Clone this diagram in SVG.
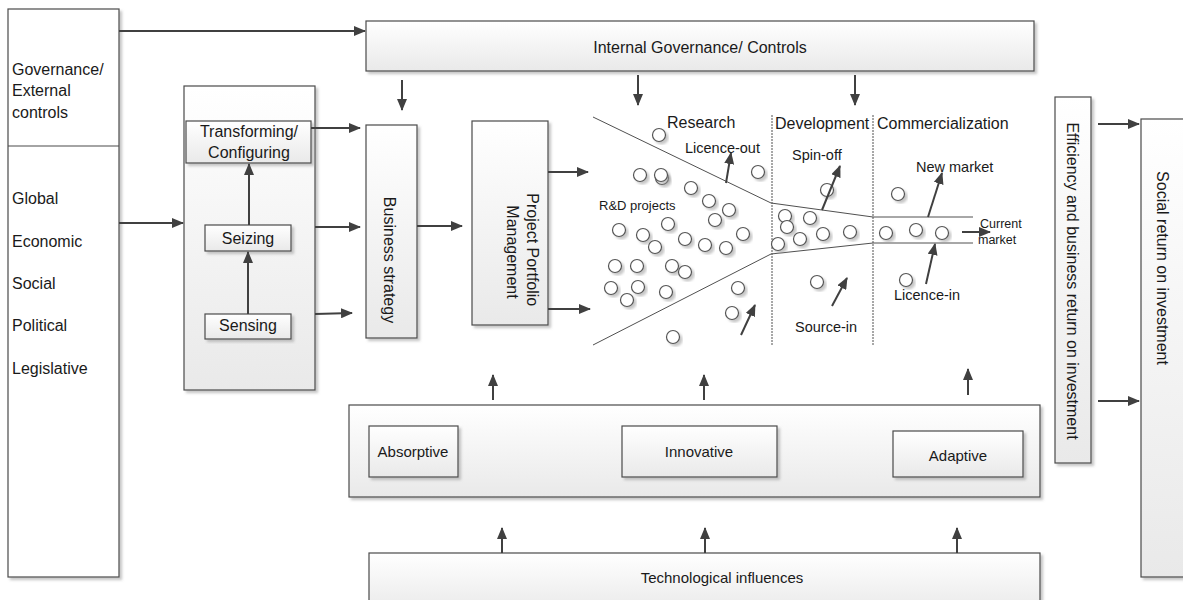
<svg xmlns="http://www.w3.org/2000/svg" width="1183" height="600" viewBox="0 0 1183 600">
  <defs>
    <linearGradient id="boxFill" x1="0" y1="0" x2="0" y2="1">
      <stop offset="0" stop-color="#ffffff"/>
      <stop offset="1" stop-color="#e9e9e9"/>
    </linearGradient>
    <filter id="shadow" x="-10%" y="-10%" width="130%" height="130%">
      <feDropShadow dx="2.5" dy="2.5" stdDeviation="1" flood-color="#9a9a9a" flood-opacity="0.55"/>
    </filter>
    <marker id="arrow" markerUnits="userSpaceOnUse" markerWidth="12" markerHeight="10" viewBox="0 0 12 10" refX="11" refY="5" orient="auto">
      <path d="M0,0 L12,5 L0,10 Z" fill="#404040"/>
    </marker>
  </defs>
  <style>
    .box { fill: url(#boxFill); stroke: #4a4a4a; stroke-width: 1.2; filter: url(#shadow); }
    .plain { fill: #ffffff; stroke: #4a4a4a; stroke-width: 1.2; }
    .lbl { font-family: "Liberation Sans", Arial, sans-serif; font-size: 16px; fill: #1a1a1a; }
    .mid { text-anchor: middle; }
    .small { font-size: 14.5px; }
    .tiny { font-size: 12.5px; }
    .conn { stroke: #404040; stroke-width: 2; fill: none; marker-end: url(#arrow); }
    .funnel { stroke: #505050; stroke-width: 1; fill: none; }
    .divider { stroke: #505050; stroke-width: 1; stroke-dasharray: 2 1; fill: none; }
    .proj { fill: #ffffff; stroke: #555555; stroke-width: 1.2; filter: url(#shadow); }
  </style>

  <rect width="1183" height="600" fill="#ffffff"/>

  <!-- external environment column -->
  <g id="external">
    <rect class="box" x="8" y="9" width="111" height="568" style="fill:#ffffff"/>
    <line x1="8" y1="146" x2="119" y2="146" stroke="#4a4a4a" stroke-width="1.2"/>
    <text class="lbl" x="12" y="75">Governance/</text>
    <text class="lbl" x="12" y="96">External</text>
    <text class="lbl" x="12" y="118">controls</text>
    <text class="lbl" x="12" y="204">Global</text>
    <text class="lbl" x="12" y="247">Economic</text>
    <text class="lbl" x="12" y="289">Social</text>
    <text class="lbl" x="12" y="331">Political</text>
    <text class="lbl" x="12" y="374">Legislative</text>
  </g>

  <!-- dynamic capabilities -->
  <g id="dynamic-capabilities">
    <rect class="box" x="184" y="86" width="131" height="304"/>
  </g>
  <g id="transforming">
    <rect class="box" x="186" y="121" width="125" height="42"/>
    <text class="lbl mid" x="249" y="137">Transforming/</text>
    <text class="lbl mid" x="249" y="158">Configuring</text>
  </g>
  <g id="seizing">
    <rect class="box" x="205" y="225" width="86" height="26"/>
    <text class="lbl mid" x="248" y="244">Seizing</text>
  </g>
  <g id="sensing">
    <rect class="box" x="205" y="314" width="86" height="25"/>
    <text class="lbl mid" x="248" y="331">Sensing</text>
  </g>

  <!-- internal governance -->
  <g id="internal-governance">
    <rect class="box" x="366" y="21" width="668" height="50"/>
    <text class="lbl mid" x="700" y="53">Internal Governance/ Controls</text>
  </g>

  <!-- business strategy -->
  <g id="business-strategy">
    <rect class="box" x="366" y="125" width="51" height="213"/>
    <text class="lbl mid" x="390" y="260" dy="0.35em" transform="rotate(90 390 260)">Business strategy</text>
  </g>

  <!-- project portfolio management -->
  <g id="portfolio">
    <rect class="box" x="472" y="121" width="76" height="204"/>
    <text class="lbl mid" transform="rotate(90 523 252)">
      <tspan x="523" y="252" dy="-4">Project Portfolio</tspan>
      <tspan x="523" y="252" dy="16">Management</tspan>
    </text>
  </g>

  <!-- R&D funnel -->
  <g id="funnel">
    <polyline class="funnel" points="593,117 771,203 873,217 973,217"/>
    <polyline class="funnel" points="593,345 771,254 873,243 973,243"/>
    <line class="divider" x1="772" y1="115" x2="772" y2="345"/>
    <line class="divider" x1="873" y1="115" x2="873" y2="345"/>
    <text class="lbl" x="667" y="128">Research</text>
    <text class="lbl" x="775" y="129">Development</text>
    <text class="lbl" x="877" y="129">Commercialization</text>
    <text class="lbl small" x="685" y="153">Licence-out</text>
    <text class="lbl" x="599" y="210" style="font-size:13px">R&amp;D projects</text>
    <text class="lbl small" x="792" y="160">Spin-off</text>
    <text class="lbl small" x="916" y="172">New market</text>
    <text class="lbl tiny" x="980" y="228">Current</text>
    <text class="lbl tiny" x="978" y="244">market</text>
    <text class="lbl small" x="894" y="300">Licence-in</text>
    <text class="lbl small" x="795" y="332">Source-in</text>
    <g id="projects">
      <circle class="proj" cx="659" cy="135" r="6.5"/>
      <circle class="proj" cx="640" cy="175" r="6.5"/>
      <circle class="proj" cx="662" cy="178" r="6.5"/>
      <circle class="proj" cx="661" cy="175" r="6.5"/>
      <circle class="proj" cx="758" cy="172" r="6.5"/>
      <circle class="proj" cx="691" cy="188" r="6.5"/>
      <circle class="proj" cx="709" cy="201" r="6.5"/>
      <circle class="proj" cx="729" cy="210" r="6.5"/>
      <circle class="proj" cx="715" cy="220" r="6.5"/>
      <circle class="proj" cx="668" cy="224" r="6.5"/>
      <circle class="proj" cx="619" cy="230" r="6.5"/>
      <circle class="proj" cx="643" cy="235" r="6.5"/>
      <circle class="proj" cx="655" cy="247" r="6.5"/>
      <circle class="proj" cx="685" cy="239" r="6.5"/>
      <circle class="proj" cx="705" cy="245" r="6.5"/>
      <circle class="proj" cx="726" cy="248" r="6.5"/>
      <circle class="proj" cx="743" cy="234" r="6.5"/>
      <circle class="proj" cx="615" cy="266" r="6.5"/>
      <circle class="proj" cx="637" cy="266" r="6.5"/>
      <circle class="proj" cx="672" cy="266" r="6.5"/>
      <circle class="proj" cx="685" cy="272" r="6.5"/>
      <circle class="proj" cx="611" cy="288" r="6.5"/>
      <circle class="proj" cx="638" cy="287" r="6.5"/>
      <circle class="proj" cx="627" cy="300" r="6.5"/>
      <circle class="proj" cx="666" cy="292" r="6.5"/>
      <circle class="proj" cx="738" cy="288" r="6.5"/>
      <circle class="proj" cx="732" cy="313" r="6.5"/>
      <circle class="proj" cx="673" cy="337" r="6.5"/>
      <circle class="proj" cx="827" cy="190" r="6.5"/>
      <circle class="proj" cx="785" cy="216" r="6.5"/>
      <circle class="proj" cx="787" cy="227" r="6.5"/>
      <circle class="proj" cx="810" cy="218" r="6.5"/>
      <circle class="proj" cx="800" cy="239" r="6.5"/>
      <circle class="proj" cx="823" cy="234" r="6.5"/>
      <circle class="proj" cx="778" cy="244" r="6.5"/>
      <circle class="proj" cx="850" cy="232" r="6.5"/>
      <circle class="proj" cx="817" cy="282" r="6.5"/>
      <circle class="proj" cx="898" cy="194" r="6.5"/>
      <circle class="proj" cx="886" cy="233" r="6.5"/>
      <circle class="proj" cx="916" cy="230" r="6.5"/>
      <circle class="proj" cx="942" cy="233" r="6.5"/>
      <circle class="proj" cx="906" cy="280" r="6.5"/>
    </g>
  </g>

  <!-- operational capabilities -->
  <g id="capabilities">
    <rect class="box" x="349" y="405" width="691" height="92"/>
  </g>
  <g id="absorptive">
    <rect class="box" x="369" y="426" width="89" height="51"/>
    <text class="lbl mid" x="413" y="457" style="font-size:15px">Absorptive</text>
  </g>
  <g id="innovative">
    <rect class="box" x="622" y="426" width="155" height="51"/>
    <text class="lbl mid" x="699" y="457" style="font-size:15px">Innovative</text>
  </g>
  <g id="adaptive">
    <rect class="box" x="893" y="431" width="130" height="46"/>
    <text class="lbl mid" x="958" y="461" style="font-size:15px">Adaptive</text>
  </g>

  <!-- technological influences -->
  <g id="technology">
    <rect class="box" x="369" y="553" width="671" height="60"/>
    <text class="lbl mid" x="722" y="583" style="font-size:15px">Technological influences</text>
  </g>

  <!-- returns -->
  <g id="efficiency">
    <rect class="box" x="1055" y="97" width="36" height="366"/>
    <text class="lbl mid" x="1073" y="281" dy="0.35em" transform="rotate(90 1073 281)">Efficiency and business return on investment</text>
  </g>
  <g id="social-return">
    <rect class="box" x="1141" y="119" width="50" height="458"/>
    <text class="lbl mid" x="1163" y="268" dy="0.35em" transform="rotate(90 1163 268)">Social return on investment</text>
  </g>

  <!-- connectors -->
  <g id="connectors">
    <line class="conn" x1="119" y1="31" x2="365" y2="31"/>
    <line class="conn" x1="119" y1="223" x2="183" y2="223"/>
    <line class="conn" x1="248" y1="314" x2="248" y2="252"/>
    <line class="conn" x1="249" y1="225" x2="249" y2="164"/>
    <line class="conn" x1="311" y1="128" x2="360" y2="128"/>
    <line class="conn" x1="315" y1="227" x2="360" y2="227"/>
    <line class="conn" x1="315" y1="314" x2="352" y2="313"/>
    <line class="conn" x1="402" y1="80" x2="402" y2="110"/>
    <line class="conn" x1="638" y1="75" x2="638" y2="105"/>
    <line class="conn" x1="855" y1="75" x2="855" y2="105"/>
    <line class="conn" x1="417" y1="226" x2="462" y2="226"/>
    <line class="conn" x1="548" y1="172" x2="588" y2="172"/>
    <line class="conn" x1="548" y1="309" x2="590" y2="309"/>
    <line class="conn" x1="726" y1="183" x2="731" y2="153"/>
    <line class="conn" x1="741" y1="335" x2="755" y2="305"/>
    <line class="conn" x1="822" y1="210" x2="840" y2="166"/>
    <line class="conn" x1="832" y1="306" x2="847" y2="278"/>
    <line class="conn" x1="928" y1="217" x2="942" y2="173"/>
    <line class="conn" x1="926" y1="284" x2="935" y2="244"/>
    <line class="conn" x1="962" y1="232" x2="990" y2="232"/>
    <line class="conn" x1="493" y1="400" x2="493" y2="375"/>
    <line class="conn" x1="704" y1="400" x2="704" y2="375"/>
    <line class="conn" x1="968" y1="395" x2="968" y2="369"/>
    <line class="conn" x1="502" y1="553" x2="502" y2="528"/>
    <line class="conn" x1="705" y1="553" x2="705" y2="528"/>
    <line class="conn" x1="957" y1="553" x2="957" y2="528"/>
    <line class="conn" x1="1098" y1="124" x2="1139" y2="124"/>
    <line class="conn" x1="1098" y1="401" x2="1139" y2="401"/>
  </g>
</svg>
